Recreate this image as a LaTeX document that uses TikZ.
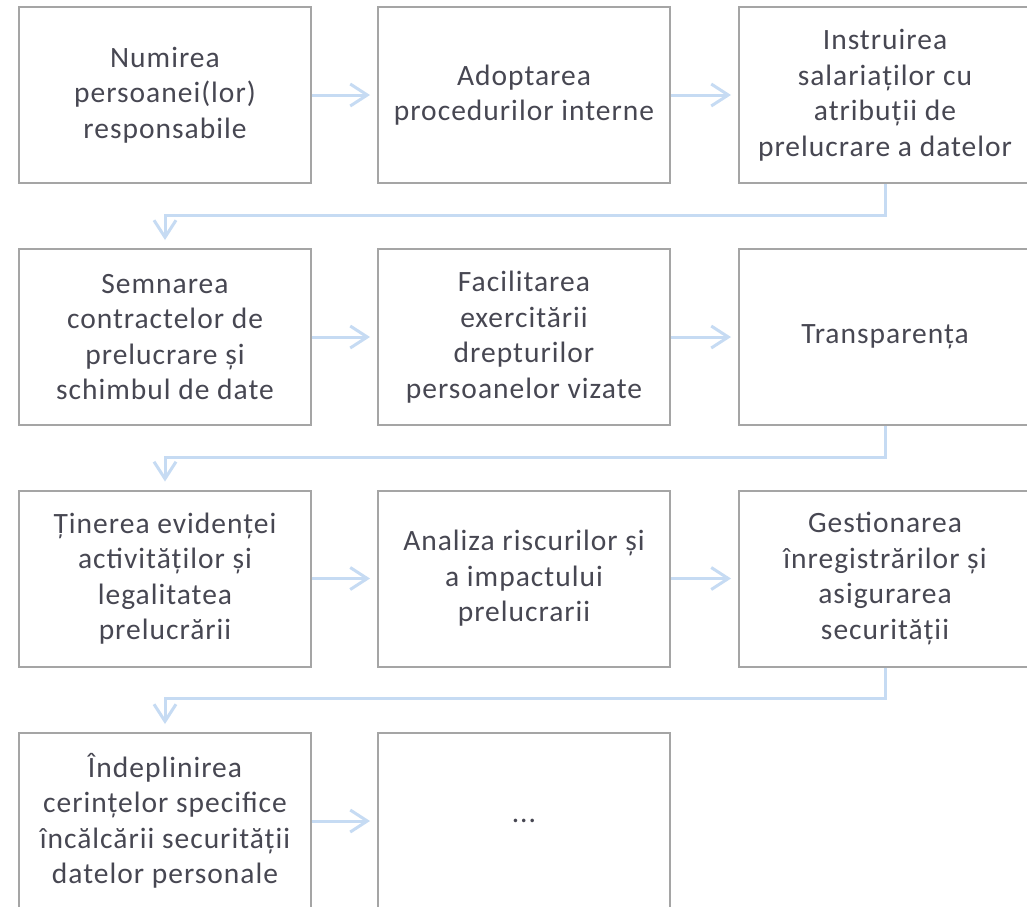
\documentclass[tikz,border=0pt]{standalone}
\usepackage{fontspec}
\setmainfont{Carlito}[LetterSpace=3.4]
\usetikzlibrary{arrows.meta}
\definecolor{boxgray}{HTML}{A5A5A5}
\definecolor{arrowblue}{HTML}{C6DBF3}
\definecolor{txt}{HTML}{474752}
\begin{document}
\begin{tikzpicture}[x=1pt,y=-1pt,
  stepbox/.style={draw=boxgray, line width=2pt, minimum width=292pt, minimum height=176pt,
    inner sep=0pt, align=center, text=txt, font=\fontsize{29.5}{35.5}\selectfont},
  conn/.style={draw=arrowblue, line width=3pt, -{Straight Barb[length=17pt,width=22pt]}, shorten >=7pt}]
\useasboundingbox (0,0) rectangle (1027,906);
\clip (0,0) rectangle (1027,906);
\fill[white] (0,0) rectangle (1027,906);
% row 1
\node[stepbox] (a1) at (165,95) {Numirea\\persoanei(lor)\\responsabile};
\node[stepbox] (a2) at (524,95) {Adoptarea\\procedurilor interne};
\node[stepbox] (a3) at (885,95) {Instruirea\\salariaților cu\\atribuții de\\prelucrare a datelor};
% row 2
\node[stepbox] (b1) at (165,337) {Semnarea\\contractelor de\\prelucrare și\\schimbul de date};
\node[stepbox] (b2) at (524,337) {Facilitarea\\exercitării\\drepturilor\\persoanelor vizate};
\node[stepbox] (b3) at (885,337) {Transparența};
% row 3
\node[stepbox] (c1) at (165,578.5) {Ținerea evidenței\\activităților și\\legalitatea\\prelucrării};
\node[stepbox] (c2) at (524,578.5) {Analiza riscurilor și\\a impactului\\prelucrarii};
\node[stepbox] (c3) at (885,578.5) {Gestionarea\\înregistrărilor și\\asigurarea\\securității};
% row 4
\node[stepbox] (d1) at (165,821) {Îndeplinirea\\cerințelor specifice\\încălcării securității\\datelor personale};
\node[stepbox] (d2) at (524,821) {...};
% horizontal connectors
\draw[conn] (a1.east) -- (a2.west);
\draw[conn] (a2.east) -- (a3.west);
\draw[conn] (b1.east) -- (b2.west);
\draw[conn] (b2.east) -- (b3.west);
\draw[conn] (c1.east) -- (c2.west);
\draw[conn] (c2.east) -- (c3.west);
\draw[conn] (d1.east) -- (d2.west);
% row-to-row connectors
\draw[conn, shorten >=8pt] (a3.south) -- ++(0,31) -| (b1.north);
\draw[conn, shorten >=8pt] (b3.south) -- ++(0,31) -| (c1.north);
\draw[conn, shorten >=8pt] (c3.south) -- ++(0,31) -| (d1.north);
\end{tikzpicture}
\end{document}
